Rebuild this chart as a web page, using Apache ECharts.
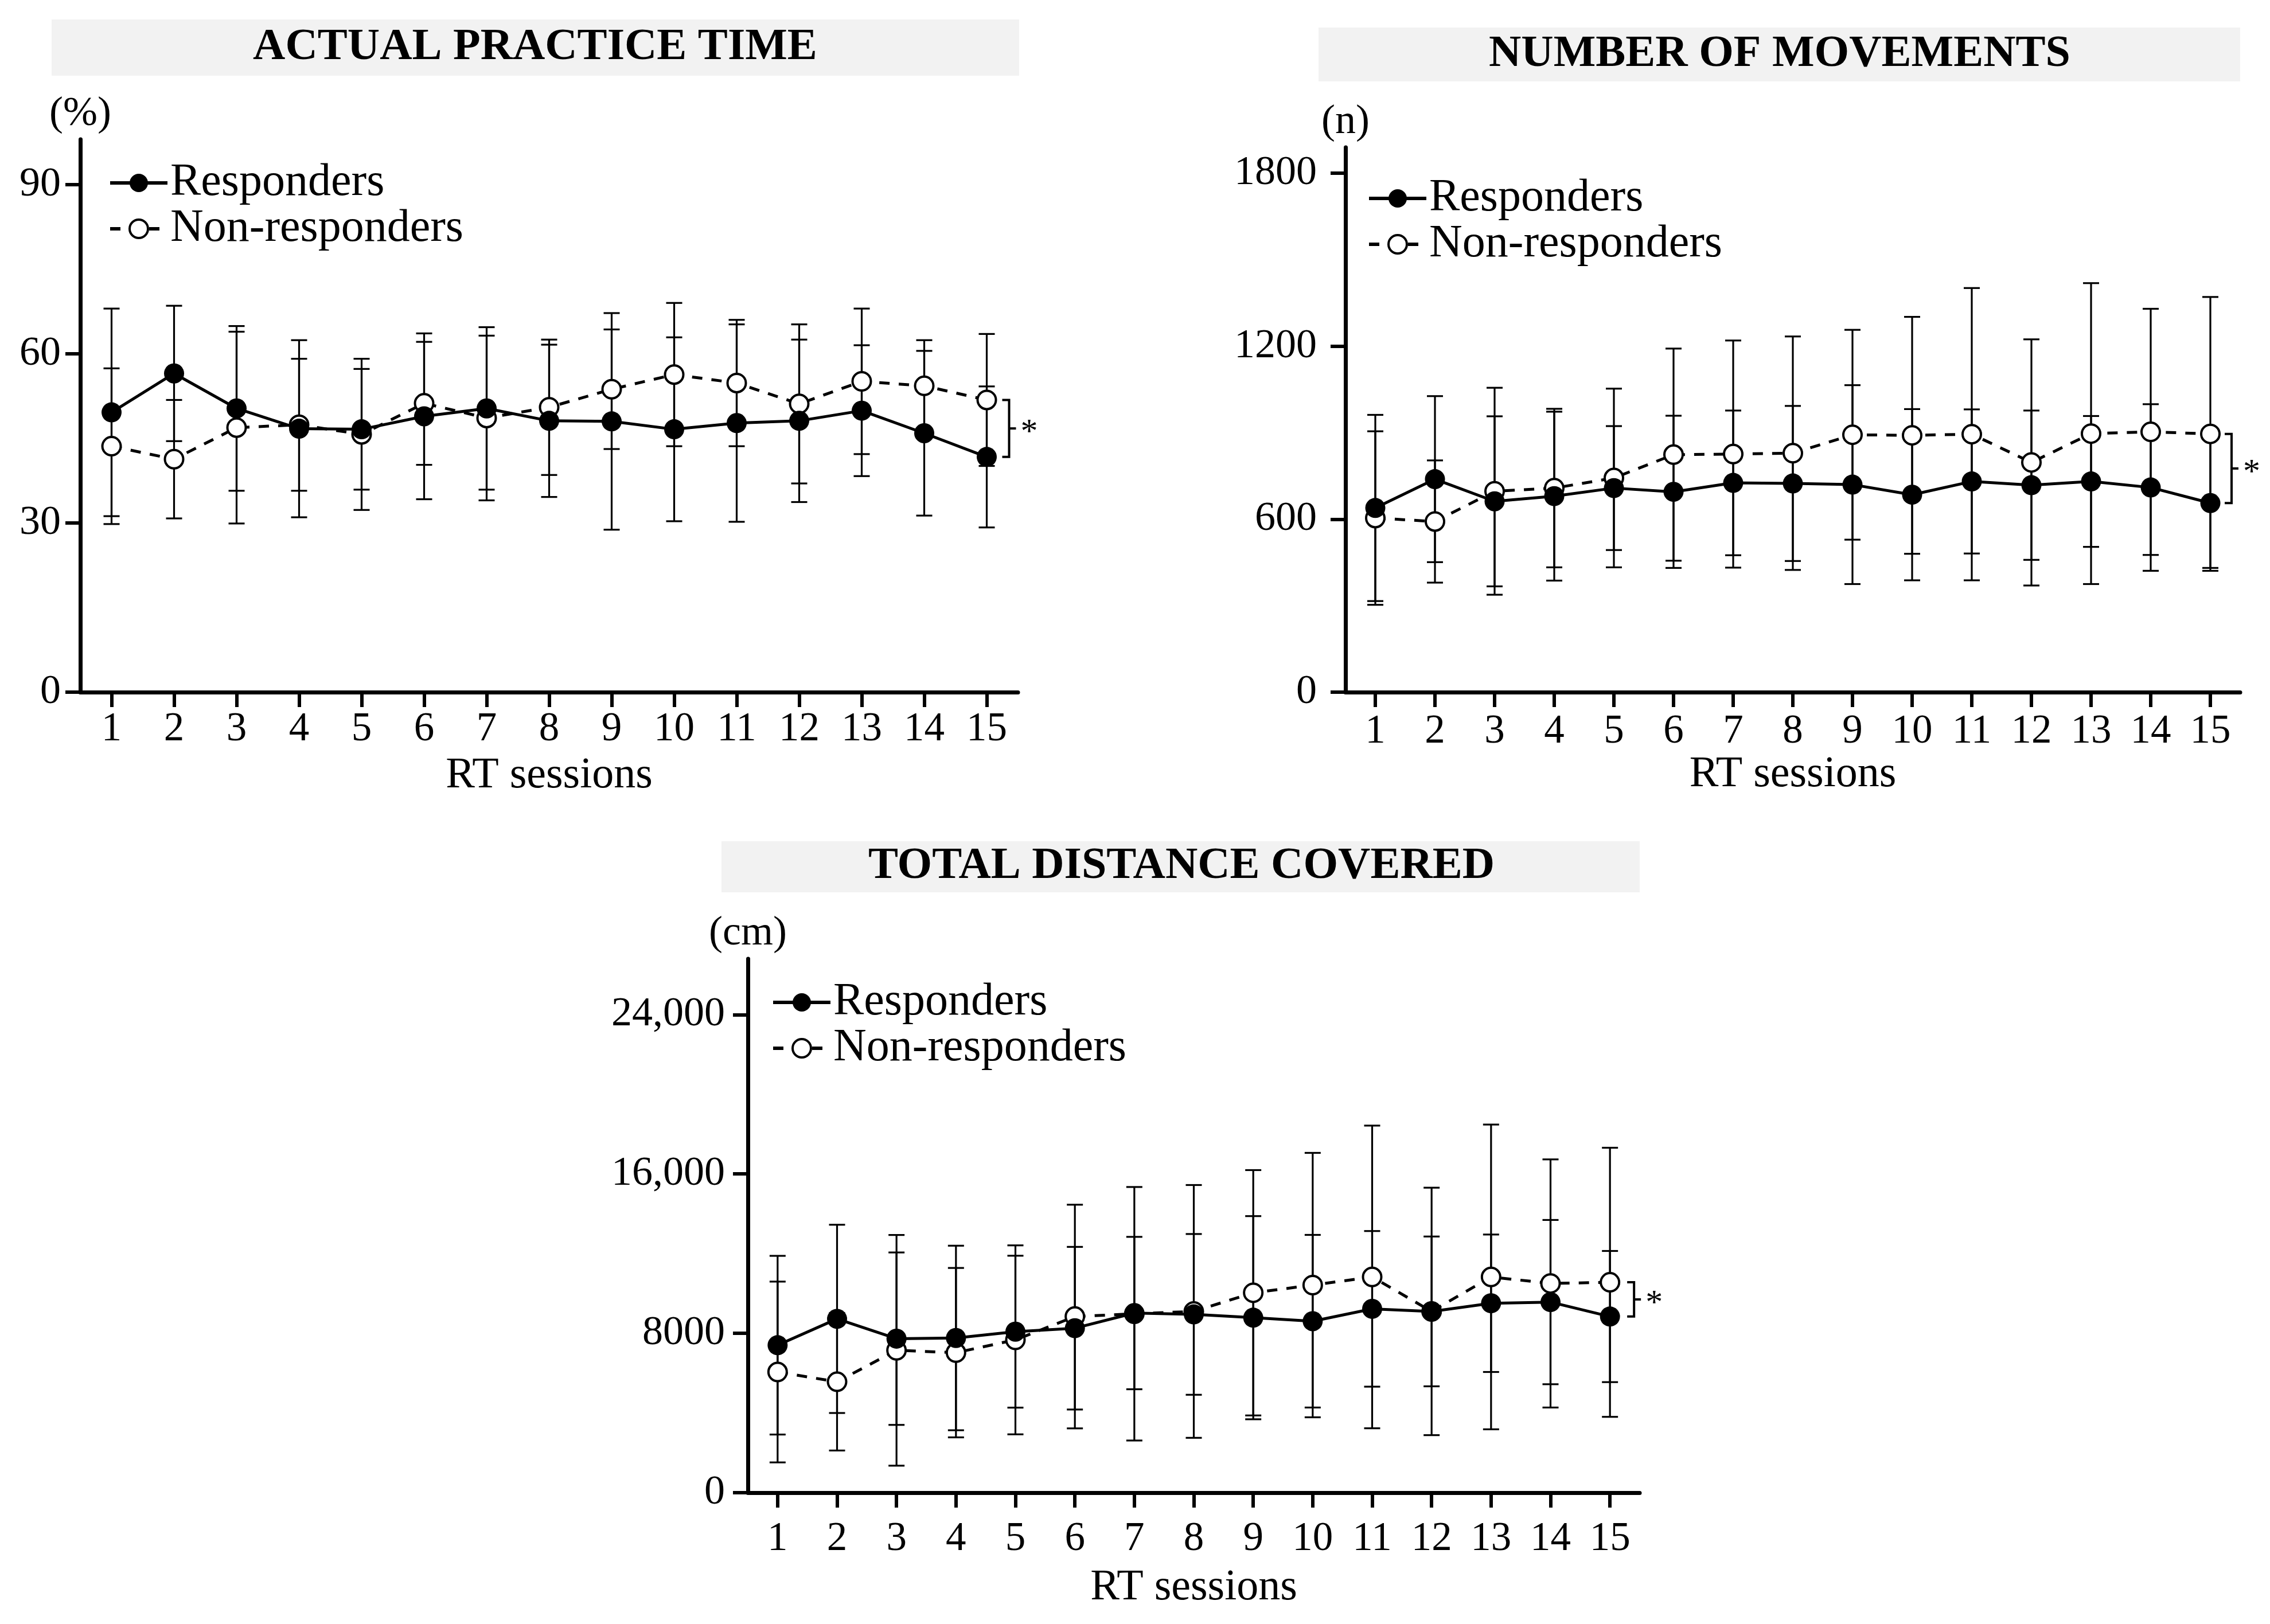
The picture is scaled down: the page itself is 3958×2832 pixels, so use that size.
<!DOCTYPE html>
<html><head><meta charset="utf-8">
<script src="https://cdn.jsdelivr.net/npm/echarts@6/dist/echarts.min.js"></script>
<style>html,body{margin:0;padding:0;background:#fff}#c{width:3958px;height:2832px}</style>
</head><body><div id="c"></div>
<script>
// ---- data ----
const sessions = ['1','2','3','4','5','6','7','8','9','10','11','12','13','14','15'];

const timeResp   = [49.6, 56.5, 50.3, 46.7, 46.6, 48.9, 50.3, 48.1, 48.0, 46.6, 47.7, 48.1, 49.9, 45.9, 41.7];
const timeRespSD = [18.4, 12.0, 14.6, 15.7, 10.7, 14.7, 14.4, 13.5, 19.2, 16.3, 17.5, 14.4, 11.6, 14.6, 12.5];
const timeNon    = [43.6, 41.3, 46.9, 47.4, 45.7, 51.2, 48.6, 50.5, 53.7, 56.3, 54.8, 51.1, 55.1, 54.3, 51.8];
const timeNonSD  = [13.8, 10.5, 17.0, 11.7, 13.4, 10.9, 14.6, 12.0, 10.6, 12.7, 11.2, 14.1, 12.9, 8.1, 11.7];

const movResp   = [639, 739, 662, 680, 708, 695, 726, 724, 720, 685, 731, 718, 731, 710, 656];
const movRespSD = [323, 288, 295, 293, 215, 264, 251, 269, 345, 297, 250, 259, 227, 289, 225];
const movNon    = [604, 592, 697, 708, 743, 824, 826, 829, 893, 891, 895, 797, 897, 903, 896];
const movNonSD  = [301, 212, 359, 275, 310, 368, 394, 405, 364, 411, 507, 427, 522, 427, 475];

const distResp   = [7404, 8725, 7731, 7766, 8082, 8257, 9017, 8950, 8784, 8608, 9228, 9099, 9509, 9567, 8842];
const distRespSD = [4485, 4725, 4328, 4632, 3813, 4082, 3825, 4035, 5099, 4333, 3906, 3760, 3450, 4123, 3292];
const distNon    = [6058, 5567, 7146, 7029, 7672, 8842, 8982, 9099, 10035, 10421, 10830, 9099, 10830, 10503, 10561];
const distNonSD  = [4538, 3450, 5790, 4252, 4743, 5614, 6363, 6345, 6158, 6637, 7597, 6211, 7649, 6228, 6754];

const timeTicks = [0, 30, 60, 90];
const movTicks  = [0, 600, 1200, 1800];
const distTicks = [0, 8000, 16000, 24000];
const distTickLabels = ['0', '8000', '16,000', '24,000'];

const titles = ['ACTUAL PRACTICE TIME', 'NUMBER OF MOVEMENTS', 'TOTAL DISTANCE COVERED'];
const units = ['(%)', '(n)', '(cm)'];
const seriesNames = ['Responders', 'Non-responders'];
const xName = 'RT sessions';

// ---- rendering ----
const FONT = 'Liberation Serif';
const chart = echarts.init(document.getElementById('c'), null, {renderer: 'canvas'});

function renderErr(params, api) {
  const x = api.value(0), lo = api.value(1), hi = api.value(2);
  const pLo = api.coord([x, lo]), pHi = api.coord([x, hi]);
  const w = 14;
  const st = {stroke: '#000', lineWidth: 3.2};
  return {type: 'group', children: [
    {type: 'line', shape: {x1: pLo[0], y1: pLo[1], x2: pHi[0], y2: pHi[1]}, style: st},
    {type: 'line', shape: {x1: pLo[0] - w, y1: pLo[1], x2: pLo[0] + w, y2: pLo[1]}, style: st},
    {type: 'line', shape: {x1: pHi[0] - w, y1: pHi[1], x2: pHi[0] + w, y2: pHi[1]}, style: st}
  ]};
}
function errSeries(g, m, sd) {
  return {type: 'custom', xAxisIndex: g, yAxisIndex: g, silent: true, z: 1, clip: false,
    data: m.map((v, i) => [i, v - sd[i], v + sd[i]]), renderItem: renderErr, encode: {x: 0, y: [1, 2]}};
}
const dashPattern = [18, 16];
function lineSeries(g, name, m, open) {
  return {type: 'line', name: name, xAxisIndex: g, yAxisIndex: g, data: m,
    symbol: 'circle', symbolSize: open ? 32 : 35, showSymbol: true, z: open ? 2 : 3,
    lineStyle: {color: '#000', width: 5, type: open ? dashPattern : 'solid'},
    itemStyle: open ? {color: '#fff', borderColor: '#000', borderWidth: 4} : {color: '#000', borderColor: '#000', borderWidth: 0},
    emphasis: {disabled: true}, animation: false};
}
function bracketSeries(g, r, n, off) {
  return {type: 'custom', xAxisIndex: g, yAxisIndex: g, silent: true, z: 4, clip: false,
    data: [[r.length - 1, r[r.length - 1], n[n.length - 1]]],
    renderItem: function (params, api) {
      const x = api.value(0);
      const pA = api.coord([x, api.value(2)]);
      const pB = api.coord([x, api.value(1)]);
      const bx = pA[0] + off;
      const ym = (pA[1] + pB[1]) / 2;
      const st = {stroke: '#000', lineWidth: 4, fill: null};
      return {type: 'group', children: [
        {type: 'polyline', shape: {points: [[bx - 12, pA[1]], [bx, pA[1]], [bx, pB[1]], [bx - 12, pB[1]]]}, style: st},
        {type: 'line', shape: {x1: bx, y1: ym, x2: bx + 12, y2: ym}, style: st},
        {type: 'text', style: {text: '*', x: bx + 20, y: ym + 8, fill: '#000', font: '60px "' + FONT + '"',
          align: 'left', verticalAlign: 'middle', textAlign: 'left', textVerticalAlign: 'middle'}}
      ]};
    }};
}

const grids = [
  {left: 140, top: 243, width: 1635, height: 964},
  {left: 2346, top: 257, width: 1560, height: 950},
  {left: 1304, top: 1672, width: 1555, height: 931}
];
const yMax = [98, 1890, 26800];
const yInt = [30, 600, 8000];
const yTicks = [timeTicks, movTicks, distTicks];
const yLabelMargin = [34, 50, 40];
const xLabelMargin = [30, 34, 46];
const xNameGap = [108, 98, 128];

const axisLineStyle = {color: '#000', width: 7};
const tickStyle = {color: '#000', width: 6};

const xAxes = grids.map((g, i) => ({
  type: 'category', gridIndex: i, data: sessions, boundaryGap: true,
  axisLine: {show: true, lineStyle: axisLineStyle},
  axisTick: {show: true, alignWithLabel: true, length: 26, lineStyle: tickStyle},
  axisLabel: {color: '#000', fontFamily: FONT, fontSize: 71, margin: xLabelMargin[i], interval: 0},
  splitLine: {show: false},
  name: xName, nameLocation: 'middle', nameGap: xNameGap[i],
  nameTextStyle: {color: '#000', fontFamily: FONT, fontSize: 76}
}));
const yAxes = grids.map((g, i) => ({
  type: 'value', gridIndex: i, min: 0, max: yMax[i], interval: yInt[i],
  axisLine: {show: true, lineStyle: axisLineStyle},
  axisTick: {show: true, length: 26, lineStyle: tickStyle, customValues: yTicks[i]},
  axisLabel: {color: '#000', fontFamily: FONT, fontSize: 72, margin: yLabelMargin[i], customValues: yTicks[i],
    formatter: i === 2 ? (v => distTickLabels[distTicks.indexOf(v)] || String(v)) : (v => String(v))},
  splitLine: {show: false},
  name: units[i], nameLocation: 'end', nameGap: 8,
  nameTextStyle: {color: '#000', fontFamily: FONT, fontSize: 72, align: 'center'}
}));

const legendPos = [{left: 184, top: 274}, {left: 2379, top: 301}, {left: 1340, top: 1703}];
const legendLH = [76, 76, 72];
const legendData = [
  {name: seriesNames[0], itemStyle: {color: '#000', borderWidth: 0},
    lineStyle: {color: '#000', width: 6, type: 'solid'}},
  {name: seriesNames[1], itemStyle: {color: '#fff', borderColor: '#000', borderWidth: 4},
    lineStyle: {color: '#000', width: 6, type: dashPattern}}
];
const legends = legendPos.map((p, i) => ({
  left: p.left, top: p.top, orient: 'vertical', itemWidth: 100, itemHeight: 40, itemGap: 0,
  selectedMode: false, data: legendData,
  lineStyle: {width: 6, color: '#000'},
  textStyle: {color: '#000', fontFamily: FONT, fontSize: 80, lineHeight: legendLH[i]}
}));

const titleBoxes = [
  {x: 90, y: 34, w: 1687, h: 98, cx: 933, cy: 83},
  {x: 2299, y: 48, w: 1607, h: 94, cx: 3103, cy: 95},
  {x: 1258, y: 1467, w: 1601, h: 89, cx: 2060, cy: 1511}
];
const graphics = [];
titleBoxes.forEach((b, i) => {
  graphics.push({type: 'rect', shape: {x: b.x, y: b.y, width: b.w, height: b.h}, style: {fill: '#f2f2f2'}, z: -10, silent: true});
  graphics.push({type: 'text', x: b.cx, y: b.cy, silent: true, style: {text: titles[i], fill: '#000',
    font: 'bold 78px "' + FONT + '"', align: 'center', verticalAlign: 'middle', textAlign: 'center', textVerticalAlign: 'middle'}});
});

const series = [
  errSeries(0, timeResp, timeRespSD), errSeries(0, timeNon, timeNonSD),
  lineSeries(0, seriesNames[1], timeNon, true), lineSeries(0, seriesNames[0], timeResp, false),
  bracketSeries(0, timeResp, timeNon, 39),
  errSeries(1, movResp, movRespSD), errSeries(1, movNon, movNonSD),
  lineSeries(1, seriesNames[1], movNon, true), lineSeries(1, seriesNames[0], movResp, false),
  bracketSeries(1, movResp, movNon, 37),
  errSeries(2, distResp, distRespSD), errSeries(2, distNon, distNonSD),
  lineSeries(2, seriesNames[1], distNon, true), lineSeries(2, seriesNames[0], distResp, false),
  bracketSeries(2, distResp, distNon, 42)
];

chart.setOption({
  animation: false,
  backgroundColor: '#fff',
  grid: grids,
  xAxis: xAxes,
  yAxis: yAxes,
  legend: legends,
  graphic: graphics,
  series: series
});
</script>
</body></html>
